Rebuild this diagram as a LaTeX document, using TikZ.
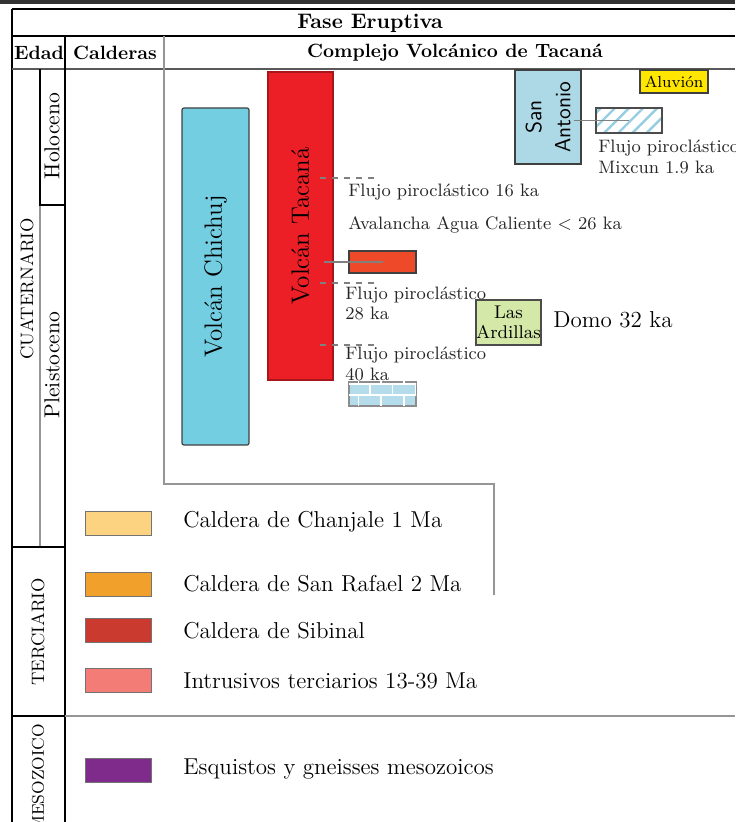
\documentclass[tikz,border=0pt]{standalone}
\usepackage{tikz}
\usetikzlibrary{positioning,calc,patterns,patterns.meta}
\definecolor{ChichujBlue}{RGB}{116,206,226}
\definecolor{TacanaRed}{RGB}{237,31,38}
\definecolor{AvalanchaRed}{RGB}{238,74,42}
\definecolor{AntonioBlue}{RGB}{173,216,230}
\definecolor{AluvionYellow}{RGB}{255,230,0}
\definecolor{ArdillasGreen}{RGB}{212,232,168}
\definecolor{ChanjaleOrange}{RGB}{252,211,128}
\definecolor{RafaelOrange}{RGB}{240,160,43}
\definecolor{SibinalRed}{RGB}{202,58,47}
\definecolor{IntrusivoPink}{RGB}{244,124,119}
\definecolor{EsquistoPurple}{RGB}{127,43,140}
\definecolor{PiroBlue}{RGB}{150,205,225}
\definecolor{RuleGray}{RGB}{150,150,150}
\tikzset{
  unit/.style={draw=black!75,line width=0.6pt,inner sep=0pt},
  swatch/.style={draw=black!55,line width=0.4pt,inner sep=0pt,
    minimum width=33pt,minimum height=12pt},
  legtext/.style={anchor=west,inner sep=0pt,font=\fontsize{11.5}{13}\selectfont},
  flujo/.style={anchor=west,inner sep=0pt,align=left,text=black!85,
    font=\fontsize{9}{10.3}\selectfont},
  head/.style={inner sep=0pt,font=\fontsize{9.6}{11}\selectfont\bfseries},
  era/.style={rotate=90,inner sep=0pt,font=\fontsize{9}{10}\selectfont},
  epoch/.style={rotate=90,inner sep=0pt,font=\fontsize{10.8}{12}\selectfont},
  heavy/.style={draw=black,line width=1pt},
  faint/.style={draw=RuleGray,line width=0.7pt},
  dashline/.style={draw=gray,dashed,line width=0.6pt},
  link/.style={draw=gray,line width=0.8pt},
}

\begin{document}
\begin{tikzpicture}[x=0.5pt,y=-0.5pt]
\path[use as bounding box] (0,0) rectangle (735,822);
\clip (0,0) rectangle (735,822);
% table frame
\draw[line width=2pt,black!80] (0,2) -- (735,2);
\draw[heavy] (12,9) -- (735,9);
\draw[heavy] (12,9) -- (12,822);
\draw[heavy] (12,36) -- (735,36);
\draw[draw=black!65,line width=0.8pt] (12,69) -- (735,69);
\draw[heavy] (65,36) -- (65,822);
\draw[faint] (164,36) -- (164,484) -- (494,484) -- (494,595);
\draw[faint] (40,205) -- (40,547);
\draw[draw=black,line width=0.8pt] (40,69) -- (40,205) -- (65,205);
\draw[heavy] (12,547) -- (65,547);
\draw[heavy] (12,716) -- (65,716);
\draw[faint] (65,716) -- (735,716);
% headers
\node[head,font=\fontsize{10.5}{12}\selectfont\bfseries] (fase) at (370,23) {Fase Eruptiva};
\node[head] (edad) at (39,53) {Edad};
\node[head] (calderas) at (115,53) {Calderas};
\node[head] (complejo) at (455,53) {Complejo Volcánico de Tacaná};
% ages
\node[era] (cuaternario) at (27,289) {CUATERNARIO};
\node[epoch] (holoceno) at (52,136) {Holoceno};
\node[epoch] (pleistoceno) at (52,365) {Pleistoceno};
\node[era] (terciario) at (38,632) {TERCIARIO};
\node[era,font=\fontsize{8.5}{10}\selectfont] (mesozoico) at (38,778) {MESOZOICO};
% volcanoes
\node[unit,fill=ChichujBlue,rounded corners=1pt,minimum width=33.5pt,minimum height=168.5pt] (chichuj) at (215.5,276.5) {};
\node[rotate=90,inner sep=0pt,font=\fontsize{12.5}{14}\selectfont] (chichujtxt) at (chichuj) {Volcán Chichuj};
\node[unit,draw=TacanaRed!70!black,fill=TacanaRed,minimum width=32.5pt,minimum height=154pt] (tacana) at (300.5,226) {};
\node[rotate=90,inner sep=0pt,font=\fontsize{12.5}{14}\selectfont] (tacanatxt) at (tacana) {Volcán Tacaná};
\node[unit,fill=AntonioBlue,minimum width=33pt,minimum height=47pt] (sanantonio) at (548,117) {};
\node[rotate=90,inner sep=0pt,align=center,font=\sffamily\fontsize{11}{14.5}\selectfont] (sanantoniotxt) at (sanantonio) {San\\Antonio};
\node[unit,fill=AluvionYellow,minimum width=34pt,minimum height=11.5pt,font=\fontsize{8}{9}\selectfont] (aluvion) at (674,81.5) {Aluvión};
\node[unit,draw=black!70,pattern={Lines[angle=45,distance=5pt,line width=1.2pt]},pattern color=PiroBlue,minimum width=33pt,minimum height=12.5pt] (mixcun) at (629,120.5) {};
\node[unit,fill=AvalanchaRed,minimum width=33.5pt,minimum height=11pt] (avalancha) at (382.5,262) {};
\node[unit,draw=black!45,fill=PiroBlue!70,postaction={pattern=bricks,pattern color=white},minimum width=33.5pt,minimum height=12pt] (piro40) at (382.5,394) {};
\node[unit,draw=black!70,fill=ArdillasGreen,align=center,minimum width=32.5pt,minimum height=22.5pt,font=\fontsize{9.2}{10}\selectfont] (ardillas) at (508.5,322.5) {Las\\Ardillas};
% links
\draw[link] ($(sanantonio.east |- mixcun.center)+(-8,0)$) -- (mixcun.center);
\draw[link] ($(tacana.east |- avalancha.center)+(-10,0)$) -- (avalancha.center);
\coordinate (f16a) at (320,178);
\coordinate (f16b) at (378,178);
\coordinate (f28a) at (320,283);
\coordinate (f28b) at (377,283);
\coordinate (f40a) at (320,345);
\coordinate (f40b) at (377,345);
\draw[dashline] (f16a) -- (f16b);
\draw[dashline] (f28a) -- (f28b);
\draw[dashline] (f40a) -- (f40b);
% labels
\node[flujo] (mixcuntxt) at (598,157) {Flujo piroclástico\\Mixcun 1.9 ka};
\node[flujo] (flujo16) at (348,192) {Flujo piroclástico 16 ka};
\node[flujo] (agua) at (348,225) {Avalancha Agua Caliente $<$ 26 ka};
\node[flujo] (flujo28) at (345,303.5) {Flujo piroclástico\\28 ka};
\node[flujo] (flujo40) at (345,364) {Flujo piroclástico\\40 ka};
\node[anchor=west,inner sep=0pt,font=\fontsize{11.5}{13}\selectfont] (domo) at (553,320) {Domo 32 ka};
% legend
\node[swatch,fill=ChanjaleOrange] (chanjale) at (118,523.5) {};
\node[legtext] (chanjaletxt) at (183,522) {Caldera de Chanjale 1 Ma};
\node[swatch,fill=RafaelOrange] (rafael) at (118,584.5) {};
\node[legtext] (rafaeltxt) at (183,584) {Caldera de San Rafael 2 Ma};
\node[swatch,fill=SibinalRed] (sibinal) at (118,630.5) {};
\node[legtext] (sibinaltxt) at (183,631) {Caldera de Sibinal};
\node[swatch,fill=IntrusivoPink] (intrusivo) at (118,680.5) {};
\node[legtext] (intrusivotxt) at (183,681) {Intrusivos terciarios 13-39 Ma};
\node[swatch,fill=EsquistoPurple] (esquisto) at (118,770) {};
\node[legtext] (esquistotxt) at (183,769) {Esquistos y gneisses mesozoicos};
\end{tikzpicture}
\end{document}
